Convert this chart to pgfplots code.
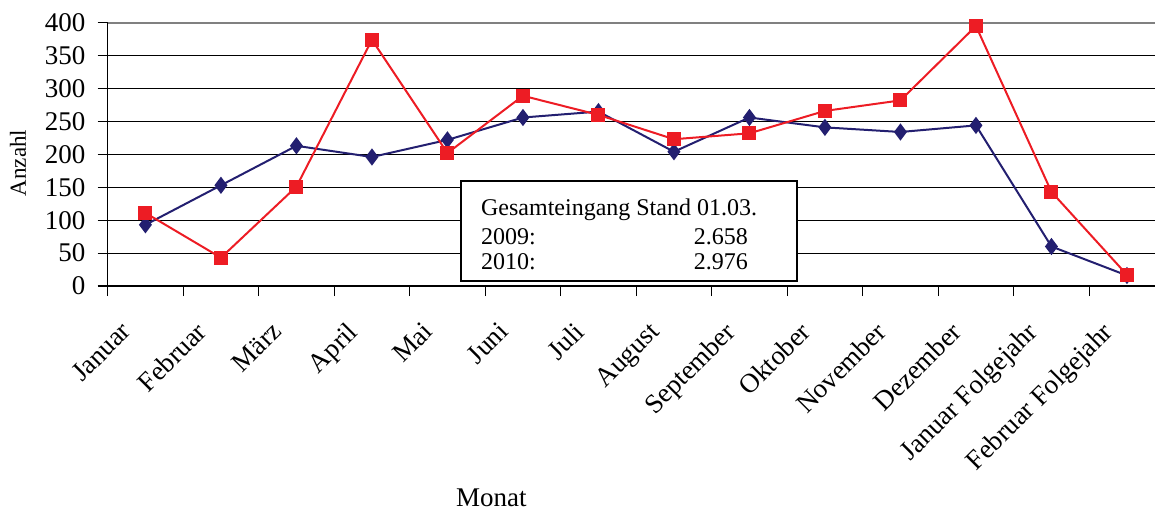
\documentclass[border=0pt]{standalone}
\usepackage{pgfplots}
\pgfplotsset{compat=1.18}
\usepackage{fontspec}
\setmainfont{Liberation Serif}
\definecolor{navy09}{RGB}{35,31,112}
\definecolor{red10}{RGB}{237,28,36}
\begin{document}
\begin{tikzpicture}
\begin{axis}[
  scale only axis, width=528.5pt, height=131.65pt,
  xmin=-0.5, xmax=13.5, ymin=0, ymax=400, clip=false,
  axis x line=bottom, axis y line=left,
  axis line style={-, black, line width=0.8pt},
  tick align=outside, major tick length=5pt,
  tick style={black, line width=0.6pt},
  ytick={0,50,100,150,200,250,300,350,400},
  yticklabels={0,50,100,150,200,250,300,350,400},
  ymajorgrids,
  major grid style={black, line width=0.5pt},
  xtick={-0.5,0.5,...,13.5}, x tick label as interval,
  xticklabels={Januar,Februar,März,April,Mai,Juni,Juli,August,September,Oktober,November,Dezember,Januar Folgejahr,Februar Folgejahr},
  /pgf/number format/assume math mode=true,
  ticklabel style={font=\fontsize{13.5}{15}\selectfont},
  yticklabel style={inner sep=0pt, xshift=-6pt},
  xticklabel style={inner sep=0pt, xshift=-13pt, yshift=-12pt, rotate=45, anchor=north east},
  xlabel={Monat},
  xlabel style={font=\fontsize{13.5}{15}\selectfont, at={(axis description cs:0.363,-0.805)}, anchor=center},
  ylabel={Anzahl},
  ylabel style={font=\fontsize{11.5}{13}\selectfont, at={(axis description cs:-0.0849,0.467)}, anchor=center},
]
\draw[gray, line width=1pt] (rel axis cs:0,1) -- (rel axis cs:1,1);

% 2009
\addplot[navy09, line width=1pt, mark=diamond*, mark size=3.5pt, mark options={solid}]
  coordinates {(0,93) (1,153) (2,213) (3,196) (4,222) (5,256) (6,265)
               (7,204) (8,256) (9,241) (10,234) (11,244) (12,60) (13,16)};

% 2010
\addplot[red10, line width=1pt, mark=square*, mark size=3pt, mark options={solid}]
  coordinates {(0,111) (1,43) (2,151) (3,374) (4,202) (5,289) (6,260)
               (7,223) (8,232) (9,266) (10,282) (11,395) (12,143) (13,17)};
\end{axis}

\draw[black, line width=1pt, fill=white] (176.5pt,2.5pt) rectangle (344.65pt,52.5pt);
\begin{scope}[every node/.style={inner sep=0pt, font=\fontsize{12}{13.5}\selectfont}]
  \node[anchor=base west] at (186.5pt,35.5pt) {Gesamteingang Stand 01.03.};
  \node[anchor=base west] at (186.5pt,21pt) {2009:};
  \node[anchor=base east] at (320.3pt,21pt) {2.658};
  \node[anchor=base west] at (186.5pt,8.5pt) {2010:};
  \node[anchor=base east] at (320.3pt,8.5pt) {2.976};
\end{scope}

\pgfresetboundingbox
\useasboundingbox (-53.85pt,-112.5pt) rectangle (523.65pt,143pt);
\end{tikzpicture}
\end{document}
